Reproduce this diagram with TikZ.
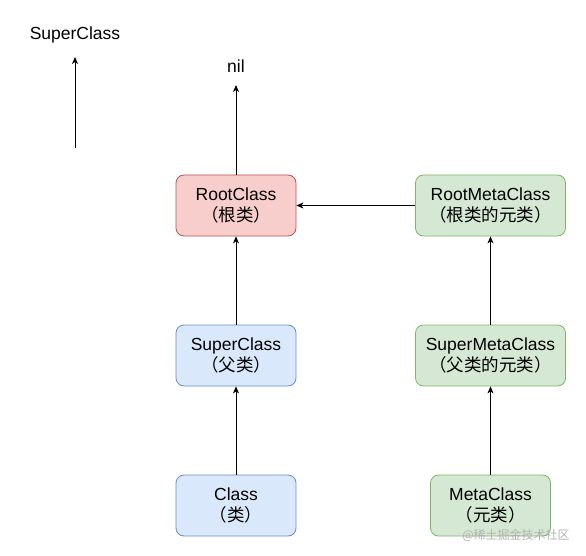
\documentclass[tikz,border=0pt]{standalone}
\usepackage{fontspec}
\setmainfont{Liberation Sans}
\newfontfamily\cjk{Noto Sans CJK SC}
\usetikzlibrary{arrows.meta,positioning}

\definecolor{rootfill}{HTML}{F8CECC}
\definecolor{rootline}{HTML}{B85450}
\definecolor{classfill}{HTML}{DAE8FC}
\definecolor{classline}{HTML}{6C8EBF}
\definecolor{metafill}{HTML}{D5E8D4}
\definecolor{metaline}{HTML}{82B366}

\tikzset{
  box/.style={rectangle,rounded corners=8pt,line width=0.8pt,align=center,
    minimum height=61pt,minimum width=120pt,inner sep=0pt,
    font=\fontsize{17.5}{21.5}\selectfont},
  rootbox/.style={box,draw=rootline,fill=rootfill},
  classbox/.style={box,draw=classline,fill=classfill},
  metabox/.style={box,draw=metaline,fill=metafill},
  lbl/.style={inner sep=0pt,font=\fontsize{17.5}{21.5}\selectfont},
}

\begin{document}
\begin{tikzpicture}[x=1pt,y=-1pt]
			\useasboundingbox (0,0) rectangle (586,556);

			\node[rootbox] (Root) at (236,205.5) {RootClass\\{\cjk （根类）}};
			\node[classbox] (Super) at (236,355.5) {SuperClass\\{\cjk （父类）}};
			\node[classbox] (Cls) at (236,505.5) {Class\\{\cjk （类）}};
			\node[metabox,minimum width=150pt] (RootMeta) at (490.5,205.5) {RootMetaClass\\{\cjk （根类的元类）}};
			\node[metabox,minimum width=150pt] (SuperMeta) at (490.5,355.5) {SuperMetaClass\\{\cjk （父类的元类）}};
			\node[metabox] (Meta) at (490.5,505.5) {MetaClass\\{\cjk （元类）}};

			\node[lbl,anchor=south] (nil) at (236,73) {nil};
			\node[lbl,anchor=south] (SuperTop) at (75,43) {SuperClass};
			\coordinate (SuperTail) at (75,148);

			\begin{scope}[>={Stealth[length=7pt,width=6pt,inset=2pt]},
				every edge/.style={draw,line width=0.8pt}]
				\path (Cls) edge[->] (Super);
				\path (Super) edge[->] (Root);
				\path (Root) edge[->,shorten >=12pt] (nil);
				\path (Meta) edge[->] (SuperMeta);
				\path (SuperMeta) edge[->] (RootMeta);
				\path (RootMeta) edge[->] (Root);
				\path (SuperTail) edge[->,shorten >=14pt] (SuperTop);
			\end{scope}

			% watermark
			\node[text=black!30,inner sep=0pt,font=\fontsize{12}{14}\selectfont\cjk] (mark) at (516,535) {@稀土掘金技术社区};
		\end{tikzpicture}
\end{document}
